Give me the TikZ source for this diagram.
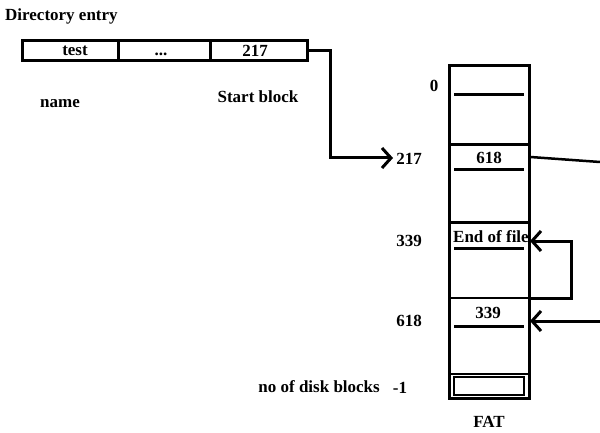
\documentclass[tikz,border=0pt]{standalone}
\usepackage{fontspec}
\setmainfont{Liberation Serif}
\usetikzlibrary{arrows.meta}
\begin{document}
\begin{tikzpicture}[x=1pt,y=-1pt,
  lbl/.style={font=\bfseries\fontsize{17}{19}\selectfont, inner sep=0pt},
  field/.style={draw, line width=3pt, minimum height=20pt, inner sep=0pt, font=\bfseries\fontsize{17}{19}\selectfont},
  fatbox/.style={draw, line width=3pt, inner sep=0pt},
  thk/.style={line width=3pt},
  thn/.style={line width=2pt},
  arr/.style={line width=3pt, -{Straight Barb[length=9pt,width=20pt,line width=3pt]}}]
\useasboundingbox (0,0) rectangle (600,433);

% directory entry
\node[lbl, anchor=west] (dirt) at (5,16) {Directory entry};
\node[field, minimum width=96pt] (f1) at (70,51) {};
\node[field, minimum width=92pt] (f2) at (164,51) {};
\node[field, minimum width=97pt] (f3) at (258.5,51) {};
\node[lbl] (t1) at (75,51) {test};
\node[lbl] (t2) at (161,54) {...};
\node[lbl] (t3) at (255,51) {217};
\node[lbl] (nm) at (60,104) {name};
\node[lbl] (sb) at (258,97) {Start block};

% FAT column
\node[fatbox, minimum width=80pt, minimum height=332pt] (fat) at (489,232) {};
\node[lbl] (fatl) at (489,422) {FAT};

% row labels
\node[lbl] (r0) at (434,86) {0};
\node[lbl] (r217) at (409,159) {217};
\node[lbl] (r339) at (409,241) {339};
\node[lbl] (r618) at (409,321) {618};
\node[lbl] (rm1) at (400,388) {-1};
\node[lbl, anchor=east] (ndb) at (380,387) {no of disk blocks};

% cells
\draw[thk] (454,95) -- (524,95);
\draw[thk] (449,145) -- (529,145);
\node[lbl] (c618) at (489,158) {618};
\draw[thk] (454,170) -- (524,170);
\draw[thk] (449,222) -- (529,222);
\node[lbl, anchor=west] (ceof) at (453,237) {End of file};
\draw[thk] (454,248) -- (524,248);
\draw[thn] (449,298) -- (529,298);
\node[lbl] (c339) at (488,313) {339};
\draw[thk] (454,326) -- (524,326);
\draw[thn] (449,374) -- (529,374);
\node[draw, line width=2pt, minimum width=70pt, minimum height=18pt, inner sep=0pt] (clast) at (489,386) {};

% connectors
\coordinate (t217) at (393,158);
\draw[arr] (f3.east) -- (330,51) |- (t217);
\coordinate (out1) at (600,162);
\draw[line width=2.5pt] (fat.east |- 0,157) -- (out1);
\coordinate (in1) at (600,321);
\draw[arr] (in1) -- (530,321);
\draw[arr] (529,298) -- (571,298) |- (530,241);
\end{tikzpicture}
\end{document}
